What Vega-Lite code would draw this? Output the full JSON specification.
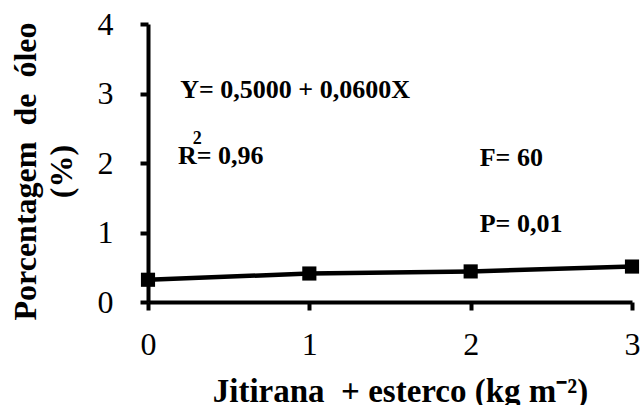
{
  "$schema": "https://vega.github.io/schema/vega-lite/v6.json",
  "width": 484,
  "height": 278,
  "autosize": {"type": "none"},
  "padding": {"left": 148, "top": 24, "right": 8, "bottom": 103},
  "background": "white",
  "config": {"view": {"stroke": null}, "font": "Liberation Serif"},
  "datasets": {
    "obs": [
      {"dose": 0, "oleo": 0.32},
      {"dose": 1, "oleo": 0.41},
      {"dose": 2, "oleo": 0.44},
      {"dose": 3, "oleo": 0.51}
    ],
    "notes": [
      {"x": 0.2, "y": 3.05, "text": "Y= 0,5000 + 0,0600X"},
      {"x": 0.186, "y": 2.1, "text": "R= 0,96"},
      {"x": 2.056, "y": 2.07, "text": "F= 60"},
      {"x": 2.056, "y": 1.12, "text": "P= 0,01"}
    ],
    "sup": [
      {"x": 0.306, "y": 2.35, "text": "2"}
    ]
  },
  "layer": [
    {
      "data": {"name": "obs"},
      "mark": {"type": "line", "color": "black", "strokeWidth": 4.5},
      "encoding": {
        "x": {
          "field": "dose", "type": "quantitative",
          "scale": {"domain": [0, 3], "nice": false, "zero": false},
          "axis": {
            "values": [0, 1, 2, 3], "format": "d", "grid": false,
            "domainColor": "black", "domainWidth": 4,
            "tickColor": "black", "tickWidth": 4, "tickSize": 8,
            "labelFont": "Liberation Serif", "labelFontSize": 32, "labelColor": "black",
            "labelPadding": 19, "labelFlush": false, "labelOverlap": false,
            "title": "Jitirana\u00a0 + esterco (kg m⁻²)",
            "titleFont": "Liberation Serif", "titleFontSize": 33, "titleFontWeight": "bold",
            "titleColor": "black", "titleBaseline": "top", "titleAlign": "center",
            "titleX": 252, "titleY": 73
          }
        },
        "y": {
          "field": "oleo", "type": "quantitative",
          "scale": {"domain": [0, 4], "nice": false},
          "axis": {
            "values": [0, 1, 2, 3, 4], "format": "d", "grid": false,
            "domainColor": "black", "domainWidth": 4,
            "tickColor": "black", "tickWidth": 4, "tickSize": 8,
            "labelFont": "Liberation Serif", "labelFontSize": 32, "labelColor": "black",
            "labelPadding": 27, "labelFlush": false, "labelOverlap": false,
            "title": ["Porcentagem\u00a0 de\u00a0 óleo", "(%)"],
            "titleFont": "Liberation Serif", "titleFontSize": 32, "titleFontWeight": "bold",
            "titleColor": "black", "titleAngle": -90, "titleBaseline": "bottom",
            "titleAlign": "center", "titleLineHeight": 36,
            "titleX": -106, "titleY": 147
          }
        }
      }
    },
    {
      "data": {"name": "obs"},
      "mark": {"type": "point", "shape": "square", "filled": true, "color": "black", "size": 200, "opacity": 1},
      "encoding": {
        "x": {"field": "dose", "type": "quantitative"},
        "y": {"field": "oleo", "type": "quantitative"}
      }
    },
    {
      "data": {"name": "notes"},
      "mark": {"type": "text", "align": "left", "baseline": "middle", "font": "Liberation Serif", "fontWeight": "bold", "fontSize": 26, "color": "black"},
      "encoding": {
        "x": {"field": "x", "type": "quantitative"},
        "y": {"field": "y", "type": "quantitative"},
        "text": {"field": "text"}
      }
    },
    {
      "data": {"name": "sup"},
      "mark": {"type": "text", "align": "center", "baseline": "middle", "font": "Liberation Serif", "fontWeight": "bold", "fontSize": 18, "color": "black"},
      "encoding": {
        "x": {"field": "x", "type": "quantitative"},
        "y": {"field": "y", "type": "quantitative"},
        "text": {"field": "text"}
      }
    }
  ]
}
